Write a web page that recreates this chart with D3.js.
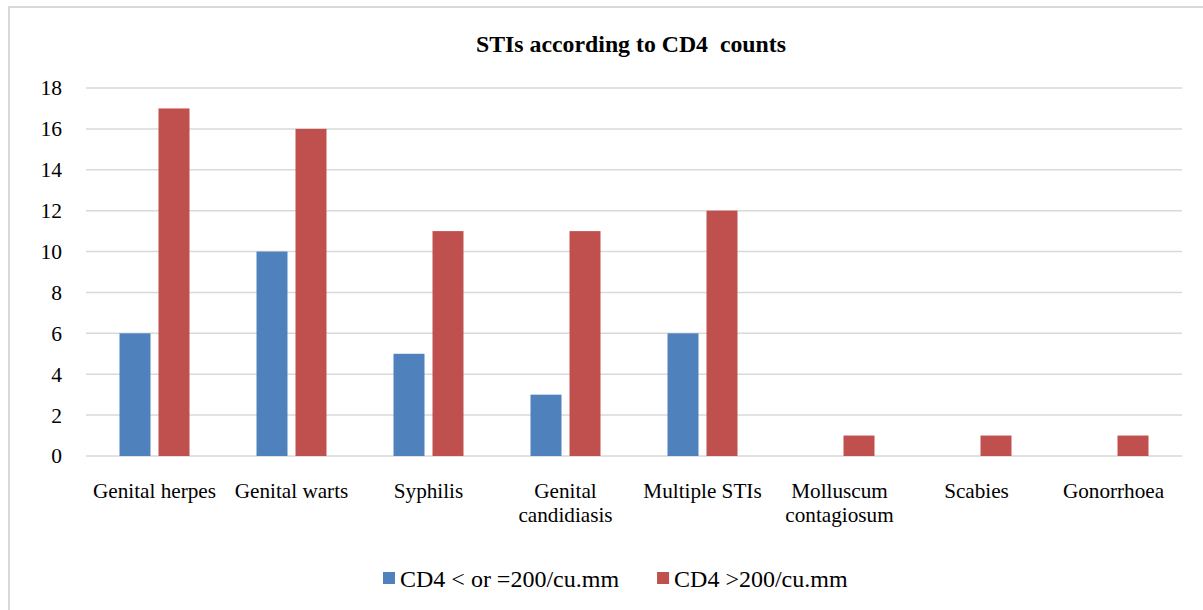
<!DOCTYPE html>
<html>
<head>
<meta charset="utf-8">
<script src="https://cdn.jsdelivr.net/npm/d3@7/dist/d3.min.js"></script>
</head>
<body style="margin:0;padding:0;background:#fff">
<svg id="chart" width="1203" height="610" style="display:block"></svg>
<script>
const categories = ["Genital herpes", "Genital warts", "Syphilis", "Genital candidiasis",
                    "Multiple STIs", "Molluscum contagiosum", "Scabies", "Gonorrhoea"];
const seriesNames = ["CD4 < or =200/cu.mm", "CD4 >200/cu.mm"];
const lowCD4 = [6, 10, 5, 3, 6, 0, 0, 0];
const highCD4 = [17, 16, 11, 11, 12, 1, 1, 1];
const yTicks = [0, 2, 4, 6, 8, 10, 12, 14, 16, 18];
const colors = ["#4F81BD", "#C0504D"];
const title = "STIs according to CD4\u00A0 counts";

const FONT = "Liberation Serif";
const svg = d3.select("#chart");
const W = 1203, H = 610;

svg.append("rect").attr("x", 0).attr("y", 0).attr("width", W).attr("height", H).attr("fill", "#fff");
// chart area border (right/bottom run off the picture)
svg.append("rect").attr("x", 9).attr("y", 7).attr("width", 1240).attr("height", 640)
  .attr("fill", "none").attr("stroke", "#D9D9D9").attr("stroke-width", 2);

const plot = { left: 86, right: 1182, top: 88, bottom: 456 };

const x = d3.scaleBand().domain(categories).range([plot.left, plot.right]).padding(0);
const xInner = d3.scaleBand().domain(seriesNames).range([0, 70]).paddingInner(8 / 39).paddingOuter(0);
const y = d3.scaleLinear().domain([0, 18]).range([plot.bottom, plot.top]);

// gridlines
svg.append("g").selectAll("line").data(yTicks).join("line")
  .attr("x1", plot.left).attr("x2", plot.right)
  .attr("y1", d => y(d)).attr("y2", d => y(d))
  .attr("stroke", "#D9D9D9").attr("stroke-width", 1.5);

// y axis labels
const yAxis = d3.axisLeft(y).tickValues(yTicks).tickSize(0).tickPadding(0);
const gy = svg.append("g").attr("transform", `translate(${plot.left - 24},0)`).call(yAxis);
gy.select(".domain").remove();
gy.selectAll("text").style("font-size", "21.5px").style("font-family", FONT).attr("fill", "#000");

// bars
const data = categories.map((c, i) => ({ cat: c, vals: [lowCD4[i], highCD4[i]] }));
const groups = svg.append("g").selectAll("g").data(data).join("g")
  .attr("transform", d => `translate(${x(d.cat) + x.bandwidth() / 2 - 35},0)`);
groups.selectAll("rect").data(d => d.vals.map((v, k) => ({ v, k })).filter(e => e.v > 0)).join("rect")
  .attr("x", e => xInner(seriesNames[e.k]))
  .attr("width", xInner.bandwidth())
  .attr("y", e => y(e.v))
  .attr("height", e => y(0) - y(e.v))
  .attr("fill", e => colors[e.k]);

// x axis labels
const xAxis = d3.axisBottom(x).tickSize(0).tickPadding(0);
const gx = svg.append("g").attr("transform", `translate(0,${plot.bottom})`).call(xAxis);
gx.select(".domain").remove();
gx.selectAll("text").remove();
gx.selectAll(".tick").each(function (d) {
  const t = d3.select(this).append("text")
    .attr("text-anchor", "middle").style("font-size", "21.2px")
    .style("font-family", FONT).attr("fill", "#000");
  const words = d.split(" ");
  const maxW = x.bandwidth() - 4;
  let lines = [], cur = [];
  const probe = t.append("tspan");
  words.forEach(w => {
    const test = cur.concat([w]).join(" ");
    probe.text(test);
    if (probe.node().getComputedTextLength() > maxW && cur.length) {
      lines.push(cur.join(" ")); cur = [w];
    } else cur.push(w);
  });
  lines.push(cur.join(" "));
  probe.remove();
  lines.forEach((l, i) => t.append("tspan").attr("x", 0).attr("y", 42 + i * 23.5).text(l));
});

// title
svg.append("text").attr("x", 631).attr("y", 52).attr("text-anchor", "middle")
  .style("font-family", FONT).style("font-size", "23.8px").style("font-weight", "bold")
  .attr("fill", "#000").text(title);

// legend
const legend = svg.append("g").attr("transform", "translate(383,578)");
let lx = 0;
seriesNames.forEach((s, k) => {
  const g = legend.append("g").attr("transform", `translate(${lx},0)`);
  g.append("rect").attr("x", 0).attr("y", -6).attr("width", 12).attr("height", 12).attr("fill", colors[k]);
  const t = g.append("text").attr("x", 17).attr("y", 9)
    .style("font-family", FONT).style("font-size", "24px").attr("fill", "#000").text(s);
  lx += 17 + t.node().getComputedTextLength() + 38;
});
</script>
</body>
</html>
